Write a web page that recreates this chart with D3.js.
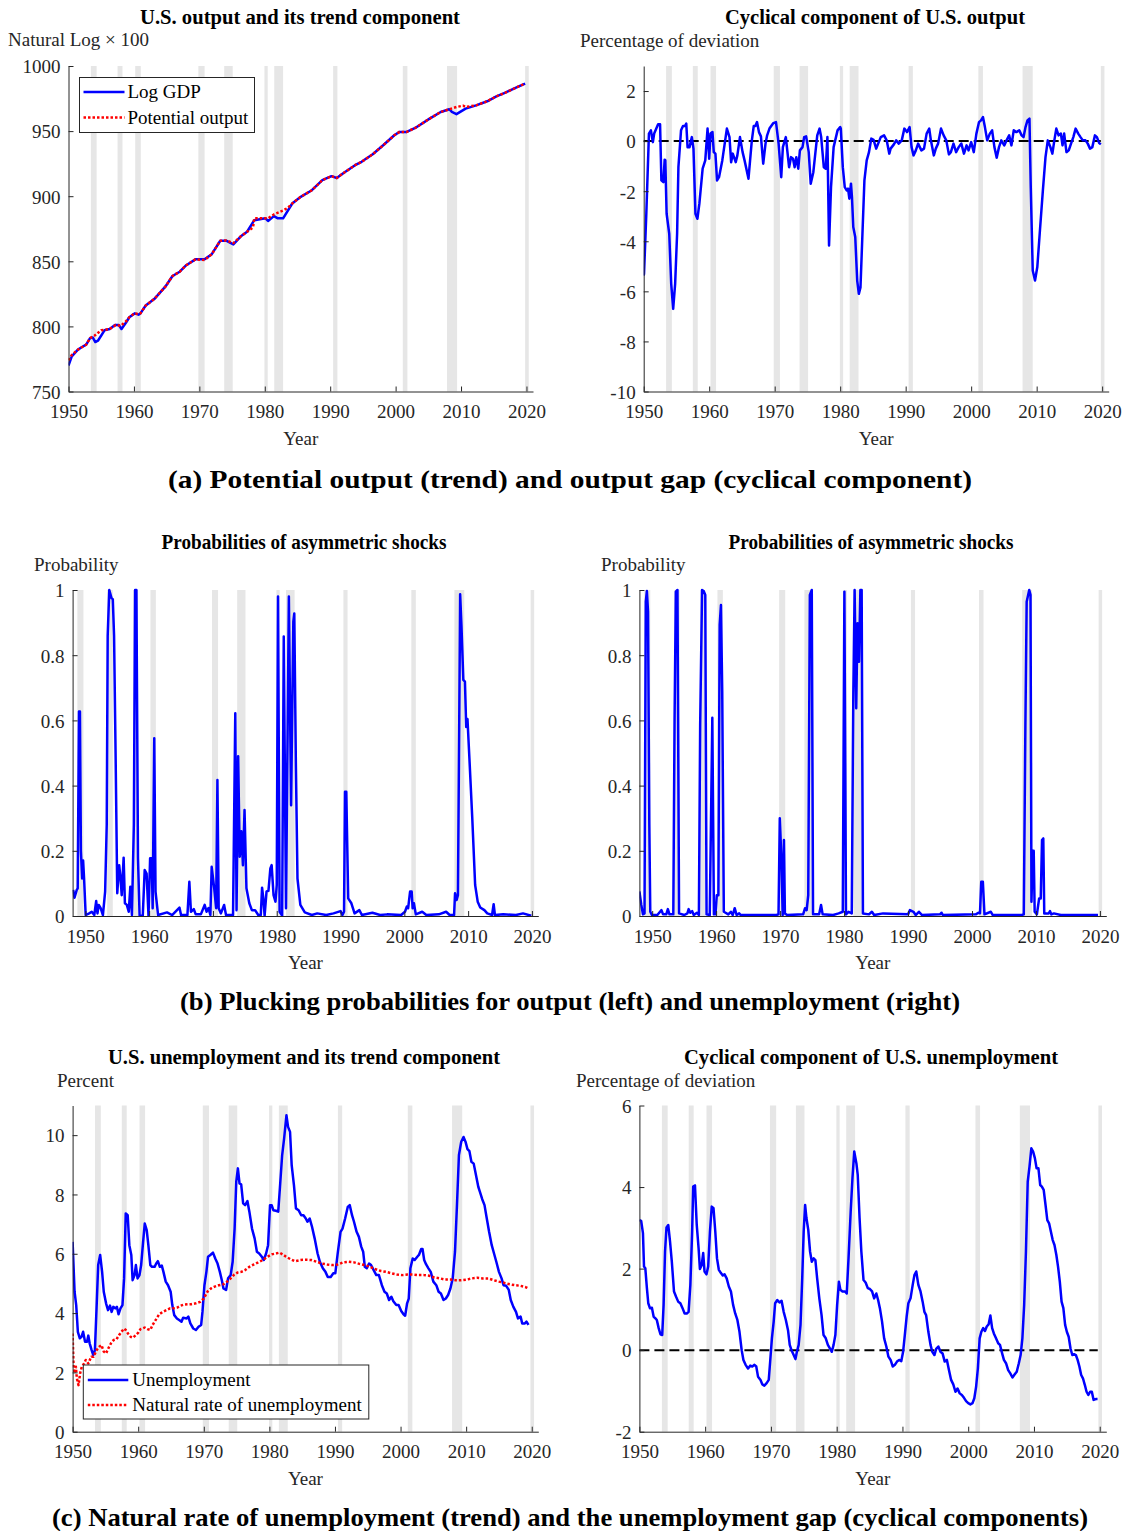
<!DOCTYPE html>
<html><head><meta charset="utf-8">
<script src="https://cdn.jsdelivr.net/npm/d3@7"></script>
<style>
html,body{margin:0;padding:0;background:#fff;}
svg text{font-family:"Liberation Serif","Times New Roman",serif;}
</style></head>
<body>
<svg id="chart" width="1126" height="1531"></svg>
<script>
// ---------------- DATA ----------------
const yearTicks = [1950,1960,1970,1980,1990,2000,2010,2020];
const ticksGDP = [750,800,850,900,950,1000];
const ticksGap = [-10,-8,-6,-4,-2,0,2];
const ticksProb = [0,0.2,0.4,0.6,0.8,1];
const ticksUnemp = [0,2,4,6,8,10];
const ticksUGap = [-2,0,2,4,6];

const recessions = [[1948.75,1949.7],[1953.42,1954.3],[1957.5,1958.25],[1960.2,1961.05],[1969.85,1970.8],[1973.8,1975.1],[1979.95,1980.45],[1981.45,1982.8],[1990.45,1991.1],[2001.1,2001.8],[2007.85,2009.4],[2019.8,2020.35]];

const logGDP = [[1950.0,770],[1950.5,777],[1951.4,782],[1952.0,784],[1952.7,786],[1953.3,791],[1953.7,791.5],[1954.1,788],[1954.5,789],[1955.5,797],[1956.3,798],[1957.1,801],[1957.7,801],[1958.1,798],[1958.8,803],[1959.3,807],[1960.1,810],[1960.7,809],[1961.0,810],[1961.8,816],[1963.1,821],[1964.8,830.5],[1965.9,838.7],[1967.0,842],[1968.0,847],[1969.4,851.5],[1970.8,851.5],[1971.9,855.5],[1973.2,865.8],[1974.1,865.8],[1975.2,863],[1976.3,869],[1977.3,872.7],[1978.4,881.6],[1980.1,883],[1980.5,881],[1981.4,884.7],[1982.0,883],[1982.8,883],[1984.2,894.4],[1985.5,899.5],[1987.2,904.6],[1988.8,912.3],[1990.2,915.4],[1991.0,914],[1992.1,918],[1993.8,923.8],[1994.8,926.4],[1996.5,932.2],[1998.1,939.1],[1999.8,946.8],[2000.6,949.4],[2001.7,949.4],[2003.0,952.4],[2005.2,959.6],[2006.9,964.7],[2008.2,966.8],[2008.6,964.7],[2009.3,963],[2010.7,967.3],[2012.3,969.8],[2014.0,972.9],[2015.4,976.7],[2016.7,979.3],[2018.4,983.4],[2019.8,986.4]];

const potentialOutput = [[1950.0,774],[1950.5,778],[1951.4,782],[1952.7,786],[1953.3,791],[1954.0,793],[1955.0,797],[1956.3,798],[1957.2,801],[1958.0,800.5],[1958.8,804],[1959.3,807],[1960.1,810],[1960.7,809.5],[1961.0,810],[1961.8,816],[1963.1,821],[1964.8,830.5],[1965.9,838.7],[1967.0,842],[1968.0,847],[1969.4,851.5],[1970.8,851],[1971.9,855.5],[1973.2,865.8],[1974.1,866],[1975.2,864],[1976.3,869],[1977.3,872.7],[1978.2,876],[1978.4,883],[1979.5,883],[1980.5,883],[1981.4,886],[1982.8,889],[1983.5,891],[1984.2,894.4],[1985.5,899.5],[1987.2,904.6],[1988.8,912.3],[1990.2,915.4],[1991.0,914],[1992.1,918],[1993.8,923.8],[1994.8,926.4],[1996.5,932.2],[1998.1,939.1],[1999.8,946.8],[2000.6,949.4],[2001.7,949.4],[2003.0,952.4],[2005.2,959.6],[2006.9,964.7],[2008.2,966.8],[2009.3,968.5],[2010.3,969.5],[2010.7,968.5],[2012.3,969.8],[2014.0,972.9],[2015.4,976.7],[2016.7,979.3],[2018.4,983.4],[2019.8,986.4]];

const outputGap = [[1950.0,-5.37],[1950.05,-5.3],[1950.4,-2.9],[1950.8,0.3],[1951.1,0.43],[1951.4,-0.04],[1951.6,0.3],[1952.2,0.67],[1952.5,0.67],[1952.7,-1.57],[1953.0,-1.64],[1953.2,-0.74],[1953.3,-0.77],[1953.5,-2.9],[1953.9,-3.7],[1954.2,-5.7],[1954.5,-6.7],[1954.8,-5.7],[1955.1,-3.7],[1955.3,-1.04],[1955.7,0.43],[1956.0,0.6],[1956.3,0.6],[1956.5,0.7],[1956.7,-0.24],[1957.0,-0.24],[1957.35,0.16],[1957.6,-0.3],[1957.9,-2.9],[1958.2,-3.1],[1958.5,-2.5],[1959.0,-1.1],[1959.4,-0.77],[1959.75,0.5],[1960.0,-0.7],[1960.2,0.3],[1960.5,0.36],[1960.7,-0.44],[1960.95,-0.5],[1961.2,-1.57],[1961.5,-1.44],[1962.0,-0.77],[1962.7,0.5],[1963.1,0.16],[1963.35,-0.84],[1963.6,-0.5],[1964.05,-0.84],[1964.3,-0.57],[1964.7,0.16],[1965.1,-0.44],[1965.4,-0.77],[1966.0,-1.5],[1966.5,0.0],[1966.8,0.6],[1967.05,0.6],[1967.3,0.76],[1967.6,0.36],[1967.9,0.19],[1968.25,-0.9],[1968.6,-0.1],[1968.85,0.23],[1969.2,0.5],[1969.8,0.72],[1970.2,0.76],[1970.6,-0.1],[1971.0,-1.44],[1971.25,-0.24],[1971.7,0.16],[1972.2,-1.04],[1972.5,-0.64],[1972.8,-0.7],[1973.05,-1.04],[1973.3,-0.64],[1973.6,-1.1],[1973.85,-0.37],[1974.25,-0.24],[1974.5,0.16],[1974.8,0.19],[1975.2,-0.44],[1975.5,-1.7],[1975.9,-1.24],[1976.2,-0.5],[1976.5,0.23],[1976.85,0.5],[1977.1,0.16],[1977.5,-1.04],[1977.8,-1.1],[1978.05,0.16],[1978.3,-4.17],[1978.6,-1.84],[1979.0,-0.24],[1979.6,0.43],[1980.0,0.56],[1980.1,0.5],[1980.4,-1.04],[1980.7,-1.84],[1981.0,-1.97],[1981.2,-1.9],[1981.4,-2.3],[1981.65,-1.7],[1981.8,-2.24],[1982.0,-3.43],[1982.3,-3.83],[1982.6,-5.57],[1982.85,-6.1],[1983.1,-5.84],[1983.4,-3.7],[1983.7,-1.57],[1984.05,-0.77],[1984.4,-0.44],[1984.75,0.1],[1985.1,0.05],[1985.5,-0.3],[1985.8,-0.1],[1986.2,0.16],[1986.7,0.23],[1987.1,0.03],[1987.5,-0.5],[1987.7,-0.3],[1988.2,-0.13],[1988.55,0.03],[1988.95,-0.1],[1989.4,0.03],[1989.8,0.5],[1990.2,0.36],[1990.6,0.56],[1990.9,-0.24],[1991.2,-0.57],[1991.55,-0.37],[1991.9,-0.1],[1992.4,-0.37],[1992.8,-0.3],[1993.2,0.3],[1993.6,0.5],[1993.85,0.03],[1994.3,-0.57],[1994.6,-0.3],[1994.95,-0.1],[1995.4,0.5],[1995.8,0.23],[1996.2,0.03],[1996.6,-0.53],[1996.9,-0.44],[1997.3,-0.1],[1997.7,-0.44],[1998.1,-0.24],[1998.5,-0.1],[1998.9,-0.5],[1999.3,-0.17],[1999.6,-0.37],[2000.0,-0.04],[2000.4,-0.44],[2000.8,0.3],[2001.2,0.76],[2001.5,0.83],[2001.8,0.96],[2002.1,0.56],[2002.45,0.03],[2002.85,0.3],[2003.2,0.43],[2003.55,-0.24],[2003.9,-0.66],[2004.25,-0.24],[2004.6,0.03],[2005.05,-0.17],[2005.4,0.03],[2005.8,0.23],[2006.15,-0.17],[2006.5,0.43],[2006.9,0.36],[2007.35,0.43],[2007.7,0.23],[2008.0,0.16],[2008.3,0.56],[2008.6,0.83],[2008.9,0.9],[2009.1,-1.84],[2009.4,-5.17],[2009.75,-5.57],[2010.1,-5.03],[2010.5,-3.57],[2010.95,-1.97],[2011.35,-0.64],[2011.7,0.03],[2012.1,-0.24],[2012.4,-0.5],[2012.7,0.03],[2013.0,0.5],[2013.35,0.23],[2013.7,0.3],[2013.95,-0.17],[2014.2,0.3],[2014.55,-0.44],[2014.9,-0.37],[2015.25,-0.1],[2015.6,0.16],[2015.95,0.5],[2016.35,0.3],[2016.7,0.16],[2017.05,0.03],[2017.45,0.03],[2017.8,-0.1],[2018.15,-0.3],[2018.5,-0.24],[2018.9,0.23],[2019.2,0.16],[2019.55,-0.08],[2019.8,-0.13]];

const probOutput = [[1948.1,0.08],[1948.3,0.056],[1948.65,0.08],[1948.8,0.085],[1949.0,0.627],[1949.15,0.627],[1949.3,0.2],[1949.5,0.115],[1949.65,0.17],[1949.8,0.115],[1950.05,0.003],[1950.6,0.008],[1951.0,0.013],[1951.4,0.003],[1951.7,0.046],[1951.9,0.008],[1952.1,0.034],[1952.4,0.024],[1952.75,0.003],[1953.1,0.075],[1953.35,0.28],[1953.5,0.86],[1953.75,1.0],[1954.1,0.975],[1954.3,0.972],[1954.5,0.86],[1954.75,0.48],[1955.0,0.07],[1955.3,0.156],[1955.5,0.12],[1955.7,0.064],[1956.0,0.179],[1956.2,0.039],[1956.5,0.034],[1956.8,0.013],[1957.05,0.09],[1957.3,0.003],[1957.6,0.28],[1957.8,1.0],[1958.0,1.0],[1958.25,0.177],[1958.5,0.001],[1959.0,0.001],[1959.3,0.141],[1959.6,0.13],[1959.9,0.001],[1960.15,0.177],[1960.4,0.177],[1960.55,0.024],[1960.8,0.545],[1961.0,0.075],[1961.4,0.003],[1962.8,0.011],[1963.6,0.003],[1964.75,0.026],[1965.0,0.003],[1966.0,0.003],[1966.3,0.105],[1966.55,0.013],[1967.0,0.021],[1967.3,0.005],[1968.1,0.005],[1968.7,0.034],[1969.0,0.013],[1969.3,0.024],[1969.6,0.003],[1969.8,0.151],[1970.2,0.085],[1970.5,0.024],[1970.7,0.417],[1970.9,0.024],[1971.25,0.008],[1971.75,0.034],[1972.05,0.003],[1973.15,0.003],[1973.5,0.622],[1973.7,0.018],[1973.95,0.49],[1974.2,0.182],[1974.45,0.26],[1974.7,0.156],[1974.95,0.325],[1975.25,0.085],[1975.7,0.039],[1976.1,0.018],[1976.6,0.018],[1977.1,0.003],[1977.5,0.003],[1977.7,0.087],[1977.9,0.054],[1978.1,0.001],[1978.4,0.075],[1978.7,0.077],[1979.0,0.146],[1979.2,0.156],[1979.5,0.064],[1979.8,0.044],[1980.0,0.095],[1980.2,0.98],[1980.45,0.013],[1980.85,0.001],[1981.1,0.857],[1981.45,0.024],[1981.9,0.98],[1982.25,0.34],[1982.6,0.903],[1982.75,0.928],[1983.0,0.463],[1983.25,0.115],[1983.7,0.034],[1984.4,0.011],[1985.5,0.003],[1986.35,0.008],[1987.75,0.003],[1988.9,0.008],[1990.0,0.015],[1990.3,0.003],[1990.55,0.013],[1990.7,0.381],[1990.9,0.381],[1991.2,0.054],[1991.7,0.039],[1992.2,0.008],[1992.95,0.018],[1993.35,0.003],[1995.0,0.01],[1996.2,0.003],[1997.3,0.005],[1999.5,0.003],[2000.1,0.013],[2000.4,0.029],[2000.6,0.024],[2000.9,0.075],[2001.15,0.075],[2001.3,0.024],[2001.5,0.039],[2001.8,0.005],[2002.8,0.013],[2003.45,0.003],[2005.4,0.005],[2006.55,0.013],[2007.1,0.003],[2007.8,0.003],[2007.95,0.07],[2008.2,0.049],[2008.4,0.064],[2008.6,0.576],[2008.75,0.987],[2008.95,0.893],[2009.25,0.724],[2009.5,0.719],[2009.7,0.58],[2009.9,0.604],[2010.2,0.484],[2010.65,0.3],[2011.1,0.095],[2011.5,0.044],[2011.9,0.026],[2012.55,0.018],[2013.0,0.008],[2013.75,0.003],[2014.0,0.036],[2014.2,0.003],[2015.5,0.005],[2017.5,0.003],[2018.6,0.008],[2019.9,0.001]];

const probUnemp = [[1948.0,0.075],[1948.3,0.034],[1948.55,0.005],[1948.8,0.008],[1949.0,0.964],[1949.17,0.997],[1949.35,0.934],[1949.55,0.28],[1949.7,0.013],[1949.95,0.003],[1950.8,0.003],[1951.45,0.018],[1951.7,0.005],[1952.2,0.005],[1952.45,0.021],[1952.7,0.005],[1953.3,0.005],[1953.5,0.606],[1953.7,0.995],[1953.95,1.0],[1954.2,0.008],[1955.0,0.003],[1955.5,0.008],[1955.7,0.021],[1955.95,0.01],[1956.25,0.015],[1956.5,0.003],[1957.0,0.01],[1957.3,0.003],[1957.5,0.586],[1957.8,1.0],[1958.05,0.997],[1958.3,0.985],[1958.5,0.005],[1959.0,0.003],[1959.25,0.378],[1959.4,0.608],[1959.65,0.005],[1959.9,0.005],[1960.1,0.064],[1960.35,0.064],[1960.55,0.893],[1960.75,0.954],[1960.95,0.688],[1961.2,0.013],[1961.9,0.005],[1962.3,0.013],[1962.6,0.003],[1962.9,0.024],[1963.2,0.003],[1963.6,0.008],[1963.85,0.003],[1969.4,0.003],[1969.75,0.005],[1969.95,0.3],[1970.2,0.177],[1970.4,0.003],[1970.6,0.233],[1970.75,0.008],[1971.1,0.003],[1973.6,0.005],[1973.9,0.024],[1974.15,0.018],[1974.4,0.064],[1974.65,0.985],[1974.95,1.0],[1975.15,0.005],[1976.1,0.005],[1976.4,0.034],[1976.65,0.005],[1978.3,0.003],[1979.15,0.008],[1979.8,0.013],[1980.05,0.995],[1980.3,0.005],[1980.7,0.013],[1981.2,0.008],[1981.45,0.688],[1981.65,1.0],[1981.9,0.637],[1982.1,0.898],[1982.33,0.78],[1982.55,1.0],[1982.75,1.0],[1982.95,0.008],[1983.9,0.005],[1984.35,0.013],[1984.7,0.003],[1986.1,0.008],[1990.0,0.005],[1990.3,0.018],[1990.85,0.013],[1991.2,0.003],[1991.7,0.013],[1992.2,0.003],[1995.0,0.005],[1995.25,0.01],[1995.45,0.003],[2000.6,0.005],[2001.0,0.01],[2001.25,0.008],[2001.45,0.105],[2001.7,0.105],[2001.95,0.005],[2002.95,0.013],[2003.25,0.003],[2007.8,0.003],[2008.1,0.005],[2008.35,0.586],[2008.55,0.964],[2008.95,1.0],[2009.15,0.985],[2009.3,0.044],[2009.5,0.2],[2009.65,0.2],[2009.8,0.013],[2010.15,0.005],[2010.5,0.054],[2010.75,0.054],[2010.95,0.233],[2011.15,0.238],[2011.3,0.008],[2012.0,0.008],[2012.2,0.015],[2012.4,0.005],[2012.8,0.008],[2013.9,0.003],[2019.5,0.003],[2019.7,0.003]];

const unemployment = [[1950.0,6.4],[1950.3,4.72],[1950.55,4.27],[1950.8,3.37],[1951.1,3.15],[1951.35,3.2],[1951.6,3.37],[1951.9,3.03],[1952.2,3.03],[1952.4,3.24],[1952.6,2.98],[1952.9,2.75],[1953.15,2.58],[1953.4,2.75],[1953.65,4.16],[1953.9,5.62],[1954.2,5.96],[1954.5,5.39],[1954.75,4.72],[1955.1,4.33],[1955.4,4.1],[1955.7,4.25],[1955.95,4.04],[1956.2,4.21],[1956.5,4.16],[1956.75,4.21],[1957.0,3.96],[1957.3,4.16],[1957.6,4.27],[1957.85,5.17],[1958.1,7.36],[1958.4,7.3],[1958.65,6.29],[1958.95,5.96],[1959.15,5.11],[1959.45,5.28],[1959.65,5.62],[1959.9,5.17],[1960.2,5.28],[1960.45,5.62],[1960.75,6.4],[1961.0,7.02],[1961.3,6.8],[1961.55,6.29],[1961.85,5.62],[1962.1,5.56],[1962.5,5.56],[1962.75,5.67],[1963.0,5.75],[1963.3,5.56],[1963.6,5.6],[1963.85,5.39],[1964.2,5.06],[1964.55,4.94],[1964.95,4.72],[1965.2,4.27],[1965.5,3.93],[1965.9,3.82],[1966.3,3.76],[1966.6,3.71],[1966.85,3.84],[1967.4,3.82],[1967.65,3.88],[1967.95,3.65],[1968.4,3.48],[1968.8,3.43],[1969.2,3.54],[1969.6,3.6],[1969.8,4.04],[1970.1,4.94],[1970.4,5.39],[1970.65,5.9],[1971.0,5.96],[1971.4,6.04],[1971.75,5.84],[1972.1,5.67],[1972.45,5.39],[1972.75,5.11],[1973.0,4.83],[1973.4,4.78],[1973.7,5.17],[1974.1,5.28],[1974.4,5.73],[1974.7,6.85],[1974.95,8.43],[1975.2,8.88],[1975.45,8.37],[1975.7,8.34],[1976.0,7.7],[1976.3,7.64],[1976.65,7.78],[1976.95,7.42],[1977.35,6.85],[1977.75,6.52],[1978.1,6.07],[1978.45,6.01],[1978.85,5.9],[1979.15,5.79],[1979.5,6.01],[1979.8,6.29],[1980.1,7.64],[1980.35,7.64],[1980.6,7.47],[1981.0,7.45],[1981.35,7.42],[1981.6,8.2],[1981.95,9.33],[1982.25,9.89],[1982.6,10.67],[1982.85,10.28],[1983.15,10.11],[1983.4,8.99],[1983.75,8.31],[1984.05,7.53],[1984.45,7.47],[1984.85,7.3],[1985.2,7.3],[1985.55,7.19],[1985.8,7.08],[1986.15,7.19],[1986.5,6.91],[1986.9,6.52],[1987.35,6.01],[1987.7,5.73],[1988.15,5.51],[1988.55,5.39],[1988.9,5.22],[1989.35,5.22],[1989.75,5.34],[1990.05,5.34],[1990.45,6.07],[1990.85,6.74],[1991.15,6.85],[1991.55,7.19],[1991.95,7.58],[1992.25,7.64],[1992.6,7.3],[1992.9,7.08],[1993.3,6.74],[1993.65,6.57],[1994.0,6.24],[1994.3,6.07],[1994.55,5.56],[1994.85,5.51],[1995.2,5.67],[1995.5,5.62],[1995.9,5.45],[1996.3,5.28],[1996.7,5.28],[1997.15,4.94],[1997.55,4.72],[1997.9,4.66],[1998.25,4.44],[1998.6,4.55],[1998.9,4.4],[1999.35,4.27],[1999.7,4.27],[2000.1,4.07],[2000.45,3.96],[2000.7,3.91],[2001.0,4.33],[2001.25,4.49],[2001.5,5.51],[2001.85,5.84],[2002.15,5.79],[2002.55,5.9],[2002.8,5.96],[2003.15,6.16],[2003.35,6.16],[2003.6,5.79],[2003.9,5.64],[2004.25,5.51],[2004.6,5.39],[2005.0,5.06],[2005.45,4.94],[2005.8,4.72],[2006.15,4.66],[2006.55,4.44],[2006.9,4.49],[2007.25,4.61],[2007.6,4.83],[2007.95,5.17],[2008.3,6.07],[2008.6,7.64],[2008.9,9.33],[2009.25,9.78],[2009.6,9.94],[2009.9,9.78],[2010.2,9.53],[2010.5,9.46],[2010.8,9.1],[2011.15,9.04],[2011.45,8.71],[2011.85,8.26],[2012.1,8.09],[2012.45,7.84],[2012.8,7.64],[2013.1,7.25],[2013.5,6.74],[2013.9,6.29],[2014.25,6.01],[2014.6,5.73],[2015.0,5.39],[2015.4,5.17],[2015.7,4.94],[2016.1,4.92],[2016.5,4.78],[2016.8,4.44],[2017.2,4.21],[2017.6,4.04],[2017.9,3.82],[2018.3,3.88],[2018.55,3.65],[2018.95,3.65],[2019.2,3.71],[2019.5,3.6]];

const naturalRate = [[1950.0,3.31],[1950.15,2.19],[1950.3,1.97],[1950.5,2.19],[1950.65,1.8],[1950.9,1.57],[1951.15,1.97],[1951.4,2.19],[1951.75,2.3],[1952.0,2.42],[1952.4,2.3],[1952.85,2.53],[1953.2,2.53],[1953.65,2.75],[1954.1,2.87],[1954.4,2.92],[1954.75,2.7],[1955.1,2.64],[1955.45,2.81],[1955.85,2.98],[1956.25,3.09],[1956.7,3.12],[1957.1,3.26],[1957.45,3.37],[1957.85,3.48],[1958.1,3.43],[1958.45,3.31],[1958.85,3.2],[1959.2,3.17],[1959.65,3.26],[1960.05,3.35],[1960.35,3.46],[1960.65,3.48],[1961.0,3.51],[1961.4,3.46],[1961.85,3.43],[1962.2,3.6],[1962.65,3.76],[1963.2,3.96],[1963.75,4.04],[1964.3,4.1],[1964.85,4.16],[1965.4,4.16],[1965.9,4.18],[1966.45,4.25],[1967.0,4.29],[1967.55,4.3],[1968.1,4.3],[1968.8,4.33],[1969.45,4.38],[1970.0,4.49],[1970.55,4.72],[1971.1,4.83],[1971.65,4.89],[1972.3,4.94],[1973.0,4.97],[1973.55,5.06],[1974.1,5.17],[1974.65,5.3],[1975.2,5.37],[1975.75,5.39],[1976.3,5.45],[1976.95,5.56],[1977.65,5.64],[1978.3,5.71],[1979.0,5.79],[1979.7,5.9],[1980.35,5.98],[1981.0,6.01],[1981.55,6.04],[1982.0,5.98],[1982.55,5.9],[1983.2,5.82],[1983.9,5.75],[1984.75,5.79],[1985.55,5.8],[1986.35,5.79],[1987.2,5.73],[1988.0,5.67],[1988.8,5.64],[1989.65,5.62],[1990.45,5.64],[1991.25,5.71],[1992.1,5.73],[1992.9,5.71],[1993.7,5.66],[1994.55,5.62],[1995.35,5.56],[1996.2,5.48],[1997.0,5.42],[1997.8,5.39],[1998.65,5.34],[1999.45,5.3],[2000.25,5.28],[2001.1,5.3],[2001.9,5.3],[2002.7,5.28],[2003.55,5.28],[2004.35,5.26],[2005.15,5.2],[2006.0,5.17],[2006.8,5.13],[2007.6,5.13],[2008.4,5.11],[2009.25,5.11],[2010.1,5.13],[2010.9,5.17],[2011.7,5.19],[2012.55,5.17],[2013.35,5.17],[2014.2,5.11],[2015.0,5.06],[2015.8,5.02],[2016.65,4.97],[2017.45,4.94],[2018.25,4.92],[2019.1,4.87],[2019.5,4.83]];

const unempGap = [[1950.0,3.19],[1950.27,3.17],[1950.54,2.87],[1950.7,2.05],[1950.9,2.01],[1951.14,1.52],[1951.35,1.15],[1951.6,1.03],[1951.9,1.04],[1952.17,0.82],[1952.44,0.78],[1952.65,0.74],[1952.93,0.54],[1953.2,0.39],[1953.47,0.37],[1953.68,1.11],[1953.9,2.42],[1954.12,3.01],[1954.39,3.07],[1954.66,2.66],[1954.93,2.17],[1955.26,1.44],[1955.58,1.31],[1955.9,1.19],[1956.23,1.15],[1956.56,1.03],[1956.88,0.9],[1957.2,0.9],[1957.48,0.94],[1957.75,1.6],[1958.02,2.91],[1958.18,4.01],[1958.45,4.04],[1958.72,3.07],[1959.0,2.5],[1959.2,1.99],[1959.48,2.09],[1959.7,2.38],[1959.9,1.93],[1960.2,1.86],[1960.46,2.05],[1960.73,2.91],[1961.0,3.52],[1961.27,3.48],[1961.54,2.91],[1961.8,2.25],[1962.08,1.97],[1962.4,1.89],[1962.68,1.83],[1962.95,1.86],[1963.27,1.76],[1963.6,1.56],[1963.92,1.44],[1964.25,1.11],[1964.57,0.9],[1964.9,0.74],[1965.22,0.45],[1965.55,0.0],[1965.82,-0.24],[1966.15,-0.36],[1966.52,-0.45],[1966.85,-0.38],[1967.17,-0.4],[1967.5,-0.36],[1967.77,-0.4],[1968.04,-0.65],[1968.42,-0.73],[1968.69,-0.84],[1969.0,-0.87],[1969.35,-0.81],[1969.67,-0.73],[1969.88,-0.29],[1970.15,0.29],[1970.42,0.7],[1970.64,1.15],[1970.97,1.23],[1971.3,1.17],[1971.62,1.21],[1971.94,0.94],[1972.27,0.74],[1972.6,0.49],[1972.86,0.13],[1973.13,0.0],[1973.46,-0.12],[1973.73,-0.22],[1973.95,-0.04],[1974.22,0.13],[1974.5,0.62],[1974.76,1.76],[1974.98,2.91],[1975.2,3.56],[1975.4,3.24],[1975.68,2.95],[1975.95,2.42],[1976.22,2.17],[1976.5,2.25],[1976.76,2.21],[1977.03,1.76],[1977.36,1.27],[1977.7,0.86],[1978.0,0.37],[1978.34,0.29],[1978.66,0.13],[1978.99,0.04],[1979.26,-0.04],[1979.53,0.13],[1979.8,0.37],[1980.07,1.11],[1980.34,1.68],[1980.56,1.48],[1980.88,1.44],[1981.26,1.44],[1981.53,1.39],[1981.8,2.25],[1982.13,3.4],[1982.4,4.22],[1982.67,4.87],[1983.0,4.58],[1983.2,4.3],[1983.48,3.24],[1983.75,2.42],[1984.08,1.72],[1984.4,1.66],[1984.73,1.52],[1985.05,1.5],[1985.38,1.44],[1985.7,1.27],[1986.03,1.39],[1986.3,1.23],[1986.57,1.03],[1986.9,0.7],[1987.22,0.29],[1987.55,0.09],[1987.87,-0.16],[1988.2,-0.24],[1988.52,-0.4],[1988.85,-0.36],[1989.17,-0.28],[1989.5,-0.24],[1989.82,-0.27],[1990.1,-0.04],[1990.36,0.37],[1990.64,0.82],[1990.9,1.15],[1991.23,1.27],[1991.56,1.6],[1991.82,1.84],[1992.1,1.93],[1992.42,1.6],[1992.75,1.44],[1993.07,1.19],[1993.34,0.94],[1993.6,0.86],[1993.94,0.45],[1994.27,0.13],[1994.54,-0.04],[1994.86,-0.12],[1995.13,0.03],[1995.46,0.09],[1995.78,-0.04],[1996.1,-0.08],[1996.43,-0.28],[1996.76,-0.24],[1997.08,-0.49],[1997.4,-0.73],[1997.73,-0.84],[1998.06,-1.02],[1998.38,-0.94],[1998.71,-1.06],[1999.03,-1.1],[1999.36,-1.17],[1999.68,-1.25],[2000.0,-1.3],[2000.33,-1.33],[2000.66,-1.3],[2000.93,-1.18],[2001.2,-0.9],[2001.47,-0.45],[2001.74,0.29],[2002.0,0.45],[2002.28,0.54],[2002.55,0.47],[2002.82,0.58],[2003.1,0.63],[2003.37,0.85],[2003.64,0.54],[2003.9,0.41],[2004.23,0.29],[2004.56,0.17],[2004.83,0.13],[2005.16,-0.08],[2005.43,-0.24],[2005.75,-0.32],[2006.08,-0.49],[2006.4,-0.57],[2006.73,-0.67],[2007.05,-0.6],[2007.38,-0.53],[2007.7,-0.32],[2007.97,-0.12],[2008.24,0.29],[2008.51,1.11],[2008.78,2.42],[2009.05,4.13],[2009.32,4.5],[2009.6,4.95],[2009.87,4.87],[2010.14,4.71],[2010.4,4.46],[2010.68,4.46],[2010.95,4.05],[2011.2,4.01],[2011.48,3.93],[2011.76,3.56],[2012.03,3.19],[2012.3,3.11],[2012.57,2.91],[2012.85,2.7],[2013.12,2.58],[2013.4,2.34],[2013.66,2.05],[2013.93,1.68],[2014.2,1.19],[2014.47,1.03],[2014.74,0.62],[2015.0,0.45],[2015.28,0.33],[2015.56,0.04],[2015.83,-0.12],[2016.1,-0.1],[2016.37,-0.12],[2016.64,-0.24],[2016.91,-0.4],[2017.18,-0.61],[2017.45,-0.69],[2017.73,-0.85],[2018.0,-1.02],[2018.27,-1.1],[2018.54,-1.02],[2018.8,-1.02],[2019.07,-1.22],[2019.4,-1.2],[2019.67,-1.2]];

// ---------------- DRAWING ----------------
const svg = d3.select("#chart");
const BLUE = "#0000ff", RED = "#ff0000", AX = "#262626", BAND = "#e6e6e6";
const FS = 19;
let clipId = 0;

function panel(o) {
  const x = d3.scaleLinear().domain(o.xdom).range([o.x0, o.x1]);
  const y = d3.scaleLinear().domain(o.ydom).range([o.y1, o.y0]);
  const g = svg.append("g");
  const cid = "clip" + (clipId++);
  g.append("clipPath").attr("id", cid).append("rect")
    .attr("x", o.x0).attr("y", o.y0 - 2).attr("width", o.x1 - o.x0).attr("height", o.y1 - o.y0 + 2);

  // recession bands
  g.append("g").selectAll("rect")
    .data(recessions.filter(r => r[1] > o.xdom[0] && r[0] < o.xdom[1]))
    .join("rect")
    .attr("x", r => x(Math.max(r[0], o.xdom[0])))
    .attr("width", r => x(Math.min(r[1], o.xdom[1])) - x(Math.max(r[0], o.xdom[0])))
    .attr("y", o.y0).attr("height", o.y1 - o.y0)
    .attr("fill", BAND);

  if (o.zeroLine) {
    g.append("line")
      .attr("x1", x(o.zeroLine[0])).attr("x2", x(o.zeroLine[1]))
      .attr("y1", y(0)).attr("y2", y(0))
      .attr("stroke", "#000").attr("stroke-width", 2).attr("stroke-dasharray", "10,5");
  }

  const line = d3.line().x(d => x(d[0])).y(d => y(d[1]));
  o.series.forEach(s => {
    g.append("path").datum(s.data)
      .attr("clip-path", `url(#${cid})`)
      .attr("d", line).attr("fill", "none")
      .attr("stroke", s.color).attr("stroke-width", s.width || 2.5)
      .attr("stroke-linejoin", "round")
      .attr("stroke-dasharray", s.dash || null);
  });

  // axes
  const xa = g.append("g").attr("transform", `translate(0,${o.y1})`)
    .call(d3.axisBottom(x).tickValues(yearTicks).tickFormat(d3.format("d"))
      .tickSizeInner(-5).tickSizeOuter(0).tickPadding(0));
  xa.select(".domain").attr("stroke", AX);
  xa.selectAll(".tick line").attr("stroke", AX);
  xa.selectAll(".tick text").attr("y", 26.5).attr("dy", 0)
    .attr("font-size", FS).attr("fill", AX)
    .attr("font-family", "Liberation Serif, Times New Roman, serif");

  const ya = g.append("g").attr("transform", `translate(${o.x0},0)`)
    .call(d3.axisLeft(y).tickValues(o.yticks).tickFormat(o.yfmt || (d => String(d)))
      .tickSizeInner(-5).tickSizeOuter(0).tickPadding(8));
  ya.select(".domain").attr("stroke", AX);
  ya.selectAll(".tick line").attr("stroke", AX);
  ya.selectAll(".tick text").attr("font-size", FS).attr("fill", AX).attr("dy", "0.36em")
    .attr("font-family", "Liberation Serif, Times New Roman, serif");

  // labels
  svg.append("text").attr("x", o.titleX).attr("y", o.titleY).attr("text-anchor", "middle")
    .attr("font-size", 20).attr("font-weight", "bold").attr("fill", "#000")
    .attr("textLength", o.titleW).attr("lengthAdjust", "spacingAndGlyphs").text(o.title);
  svg.append("text").attr("x", o.ylabX).attr("y", o.ylabY)
    .attr("font-size", FS).attr("fill", AX).text(o.ylab);
  svg.append("text").attr("x", (o.x0 + o.x1) / 2).attr("y", o.y1 + 53).attr("text-anchor", "middle")
    .attr("font-size", FS).attr("fill", AX).text("Year");

  if (o.legend) {
    const L = o.legend;
    const lg = svg.append("g");
    lg.append("rect").attr("x", L.x).attr("y", L.y).attr("width", L.w).attr("height", L.h)
      .attr("fill", "#fff").attr("stroke", AX).attr("stroke-width", 1);
    L.items.forEach((it, i) => {
      const yy = L.y + L.first + i * L.step;
      lg.append("line").attr("x1", L.x + L.lx0).attr("x2", L.x + L.lx1)
        .attr("y1", yy).attr("y2", yy)
        .attr("stroke", it.color).attr("stroke-width", 2.5)
        .attr("stroke-dasharray", it.dash || null);
      lg.append("text").attr("x", L.x + L.tx).attr("y", yy).attr("dy", "0.34em")
        .attr("font-size", FS).attr("fill", "#000").text(it.label);
    });
  }
}

const DOT = "2.5,2";

// (a) left
panel({
  x0: 68.5, x1: 533, y0: 66, y1: 391.5, xdom: [1950, 2021], ydom: [750, 1000],
  yticks: ticksGDP, title: "U.S. output and its trend component", titleX: 300, titleY: 24, titleW: 320,
  ylab: "Natural Log \u00d7 100", ylabX: 8, ylabY: 46,
  series: [{data: logGDP, color: BLUE}, {data: potentialOutput, color: RED, dash: DOT}],
  legend: {x: 79.5, y: 77.5, w: 175, h: 55, first: 14.5, step: 25.5, lx0: 4, lx1: 45, tx: 48,
    items: [{label: "Log GDP", color: BLUE}, {label: "Potential output", color: RED, dash: DOT}]}
});
// (a) right
panel({
  x0: 643.7, x1: 1108.7, y0: 66, y1: 391.5, xdom: [1950, 2021], ydom: [-10, 3],
  yticks: ticksGap, title: "Cyclical component of U.S. output", titleX: 875, titleY: 24, titleW: 300,
  ylab: "Percentage of deviation", ylabX: 580, ylabY: 47, zeroLine: [1950, 2019.8],
  series: [{data: outputGap, color: BLUE}]
});
// (b) left
panel({
  x0: 72.6, x1: 538.3, y0: 590, y1: 916, xdom: [1948, 2021], ydom: [0, 1],
  yticks: ticksProb, title: "Probabilities of asymmetric shocks", titleX: 304, titleY: 549, titleW: 285,
  ylab: "Probability", ylabX: 34, ylabY: 571,
  series: [{data: probOutput, color: BLUE}]
});
// (b) right
panel({
  x0: 639.4, x1: 1106.3, y0: 590, y1: 916, xdom: [1948, 2021], ydom: [0, 1],
  yticks: ticksProb, title: "Probabilities of asymmetric shocks", titleX: 871, titleY: 549, titleW: 285,
  ylab: "Probability", ylabX: 601, ylabY: 571,
  series: [{data: probUnemp, color: BLUE}]
});
// (c) left
panel({
  x0: 72.6, x1: 538.3, y0: 1105.5, y1: 1431.7, xdom: [1950, 2021], ydom: [0, 11],
  yticks: ticksUnemp, title: "U.S. unemployment and its trend component", titleX: 304, titleY: 1064, titleW: 392,
  ylab: "Percent", ylabX: 57, ylabY: 1087,
  series: [{data: unemployment, color: BLUE}, {data: naturalRate, color: RED, dash: DOT}],
  legend: {x: 83.3, y: 1365, w: 285.5, h: 54, first: 15, step: 25, lx0: 4.5, lx1: 45, tx: 49,
    items: [{label: "Unemployment", color: BLUE}, {label: "Natural rate of unemployment", color: RED, dash: DOT}]}
});
// (c) right
panel({
  x0: 639.4, x1: 1106.3, y0: 1105.5, y1: 1431.7, xdom: [1950, 2021], ydom: [-2, 6],
  yticks: ticksUGap, title: "Cyclical component of U.S. unemployment", titleX: 871, titleY: 1064, titleW: 374,
  ylab: "Percentage of deviation", ylabX: 576, ylabY: 1087, zeroLine: [1950, 2019.7],
  series: [{data: unempGap, color: BLUE}]
});

// section captions
const captions = [
  ["(a) Potential output (trend) and output gap (cyclical component)", 488, 804],
  ["(b) Plucking probabilities for output (left) and unemployment (right)", 1010, 780],
  ["(c) Natural rate of unemployment (trend) and the unemployment gap (cyclical components)", 1526, 1036]
];
svg.selectAll("text.cap").data(captions).join("text").attr("class", "cap")
  .attr("x", 570).attr("y", d => d[1]).attr("text-anchor", "middle")
  .attr("font-size", 26).attr("font-weight", "bold").attr("fill", "#000")
  .attr("textLength", d => d[2]).attr("lengthAdjust", "spacingAndGlyphs").text(d => d[0]);
</script>
</body></html>
